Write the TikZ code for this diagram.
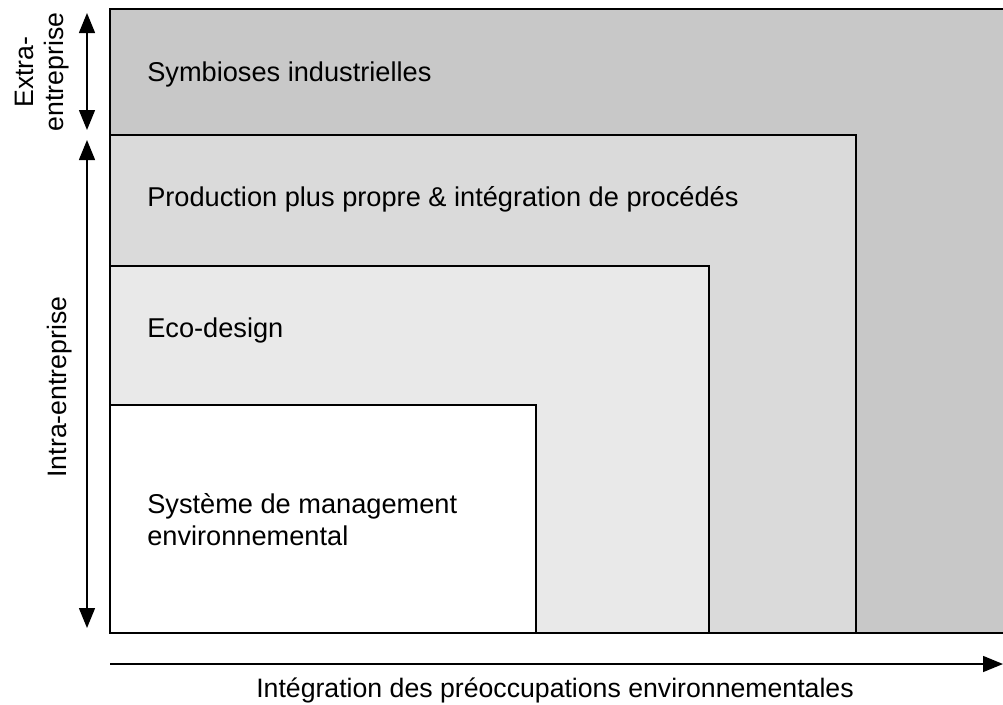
\documentclass[tikz,border=0pt]{standalone}
\usepackage{fontspec}
\setmainfont{Liberation Sans}
\usetikzlibrary{arrows.meta}
\definecolor{g1}{HTML}{C8C8C8}
\definecolor{g2}{HTML}{DADADA}
\definecolor{g3}{HTML}{E9E9E9}
\tikzset{
  box/.style={draw=black, line width=1.5pt},
  lbl/.style={anchor=base west, inner sep=0pt, font=\fontsize{20.4}{24}\selectfont},
  dbl/.style={line width=1.1pt, {Triangle[width=12pt,length=15pt]}-{Triangle[width=12pt,length=15pt]}},
  sgl/.style={line width=1.1pt, -{Triangle[width=12pt,length=15pt]}},
}
\begin{document}
\begin{tikzpicture}[x=0.75pt,y=-0.75pt]
\useasboundingbox (0,0) rectangle (1003,704);
% outer
\fill[g1] (110,9) rectangle (1003,633);
\draw[box] (1003,9) -- (110,9) -- (110,633) -- (1003,633);
\filldraw[box, fill=g2] (110,135) rectangle (856,633);
\filldraw[box, fill=g3] (110,266) rectangle (709,633);
\filldraw[box, fill=white] (110,405) rectangle (536,633);

\node[lbl] (sym) at (147,81) {Symbioses industrielles};
\node[lbl] (prod) at (147,206) {Production plus propre \& intégration de procédés};
\node[lbl] (eco) at (147,337) {Eco-design};
\node[lbl] (sme1) at (147,513) {Système de management};
\node[lbl] (sme2) at (147,545) {environnemental};

\coordinate (e1) at (87,13);
\coordinate (e2) at (87,130);
\coordinate (i1) at (87,140);
\coordinate (i2) at (87,628);
\draw[dbl] (e1) -- (e2);
\draw[dbl] (i1) -- (i2);

\node[rotate=90, align=center, inner sep=0pt, font=\fontsize{20}{23}\selectfont] (extra) at (42,72) {Extra-\\entreprise};
\node[rotate=90, inner sep=0pt, font=\fontsize{20}{24}\selectfont] (intra) at (60,387) {Intra-entreprise};

\coordinate (a1) at (110,664);
\coordinate (a2) at (1003,664);
\draw[sgl] (a1) -- (a2);
\node[inner sep=0pt, font=\fontsize{20}{24}\selectfont] (axis) at (555,690) {Intégration des préoccupations environnementales};
\end{tikzpicture}
\end{document}
